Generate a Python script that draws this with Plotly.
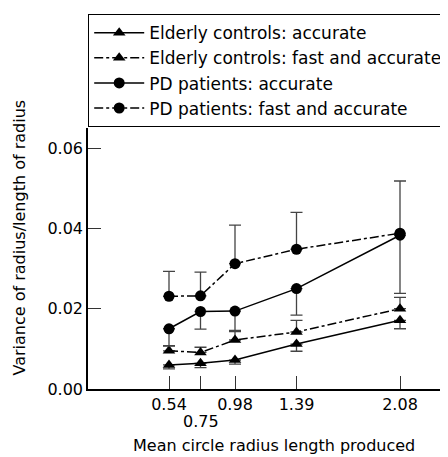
import plotly.graph_objects as go

x_vals = [0.54, 0.75, 0.98, 1.39, 2.08]
x_tick_text = ["0.54", "0.75", "0.98", "1.39", "2.08"]
y_tick_vals = [0, 0.02, 0.04, 0.06]
x_title = "Mean circle radius length produced"
y_title = "Variance of radius/length of radius"

ec_acc = [0.0060, 0.0064, 0.0072, 0.0112, 0.0171]
ec_acc_err = [0.0010, 0.0011, 0.0010, 0.0018, 0.0021]   # downward
ec_fast = [0.0095, 0.0091, 0.0122, 0.0142, 0.0200]
ec_fast_err = [0.0013, 0.0013, 0.0021, 0.0029, 0.0028]  # upward
pd_acc = [0.0150, 0.0193, 0.0194, 0.0250, 0.0383]
pd_acc_err = [0.0043, 0.0044, 0.0048, 0.0066, 0.0145]   # downward
pd_fast = [0.0231, 0.0232, 0.0312, 0.0348, 0.0388]
pd_fast_err = [0.0062, 0.0059, 0.0096, 0.0092, 0.0130] # upward

names = ["Elderly controls: accurate", "Elderly controls: fast and accurate",
         "PD patients: accurate", "PD patients: fast and accurate"]

fig = go.Figure()

def add(y, err, up, name, symbol, dash, size):
    ed = dict(type="data", symmetric=False, color="#444444", thickness=1.3, width=6)
    if up:
        ed["array"] = err
        ed["arrayminus"] = [0]*len(err)
    else:
        ed["array"] = [0]*len(err)
        ed["arrayminus"] = err
    fig.add_trace(go.Scatter(
        x=x_vals, y=y, name=name, mode="lines+markers",
        line=dict(color="black", width=1.5, dash=dash),
        marker=dict(symbol=symbol, size=size, color="black"),
        error_y=ed,
    ))

add(ec_acc, ec_acc_err, False, names[0], "triangle-up", "solid", 11)
add(ec_fast, ec_fast_err, True, names[1], "triangle-up", "dashdot", 11)
add(pd_acc, pd_acc_err, False, names[2], "circle", "solid", 11)
add(pd_fast, pd_fast_err, True, names[3], "circle", "dashdot", 11)

# staggered tick label (second one is placed one line lower)
shown_ticks = [t if i != 1 else "" for i, t in enumerate(x_tick_text)]
fig.add_annotation(x=x_vals[1], y=-0.126, xref="x", yref="paper",
                   text=x_tick_text[1], showarrow=False,
                   font=dict(size=16), yanchor="middle")
fig.add_annotation(x=0.517, y=-0.2146, xref="paper", yref="paper",
                   text=x_title, showarrow=False,
                   font=dict(size=16), yanchor="middle")
fig.add_annotation(x=-0.19, y=0.579, xref="paper", yref="paper",
                   text=y_title, showarrow=False, textangle=-90,
                   font=dict(size=16), xanchor="center", yanchor="middle")

font = "DejaVu Sans"
# page body has an 8px default margin, so the figure is sized to fit the window
fig.update_layout(
    width=440, height=449,
    margin=dict(l=80, r=0, t=120, b=68),
    paper_bgcolor="white", plot_bgcolor="white",
    font=dict(family=font, size=16, color="black"),
    showlegend=True,
    legend=dict(x=0, y=1.437, xanchor="left", yanchor="top",
                bordercolor="black", borderwidth=1.2, bgcolor="white",
                font=dict(size=17, family=font), tracegroupgap=0,
                itemwidth=50),
    xaxis=dict(range=[0, 2.4], tickvals=x_vals, ticktext=shown_ticks,
               tickangle=0,
               ticks="inside", ticklen=13, tickwidth=1.2, tickcolor="#333",
               showline=True, linecolor="black", linewidth=1.5,
               showgrid=False, zeroline=False,
               tickfont=dict(size=16)),
    yaxis=dict(range=[0, 0.065], tickvals=y_tick_vals,
               tickformat=".2f",
               ticks="inside", ticklen=13, tickwidth=1.2, tickcolor="#333",
               showline=True, linecolor="black", linewidth=1.5,
               showgrid=False, zeroline=False,
               tickfont=dict(size=16)),
)

fig.write_html("out.html")
